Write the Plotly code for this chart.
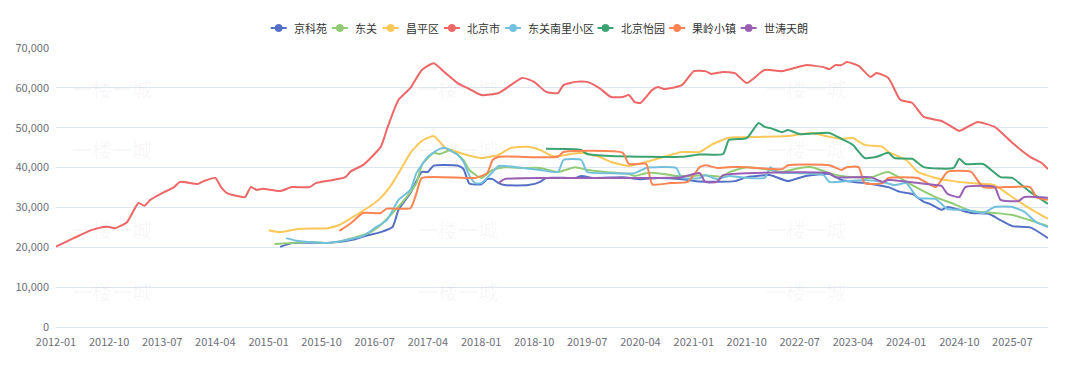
import plotly.graph_objects as go

# ---------------- data ----------------
series_names = ["京科苑", "东关", "昌平区", "北京市", "东关南里小区", "北京怡园", "果岭小镇", "世涛天朗"]
series_colors = ["#5470c6", "#91cc75", "#fac858", "#ee6666", "#73c0de", "#3ba272", "#fc8452", "#9a60b4"]

tick_labels = ["2012-01", "2012-10", "2013-07", "2014-04", "2015-01", "2015-10", "2016-07", "2017-04",
               "2018-01", "2018-10", "2019-07", "2020-04", "2021-01", "2021-10", "2022-07", "2023-04",
               "2024-01", "2024-10", "2025-07"]
x_first, x_last = "2012-01", "2026-01"

jky_m = ["2015-03","2015-05","2015-11","2016-03","2016-06","2016-08","2016-10","2016-11","2017-01","2017-03","2017-04","2017-05","2017-09","2017-10","2017-11","2018-01","2018-02","2018-03","2018-04","2018-05","2018-09","2018-11","2018-12","2019-05","2019-06","2019-08","2020-01","2020-04","2020-07","2020-11","2021-02","2021-08","2021-10","2022-02","2022-05","2022-08","2022-12","2023-02","2023-07","2023-10","2023-12","2024-02","2024-04","2024-05","2024-07","2024-08","2024-10","2024-12","2025-03","2025-05","2025-07","2025-10","2026-01"]
jky_v = [20100,21100,21100,21800,23100,23800,25100,29400,33600,38900,38900,40500,40500,39700,36000,35800,37100,37100,36100,35600,35600,36400,37400,37400,37900,37400,37600,37100,37400,37100,36500,36600,37600,38100,36600,37900,38400,36900,35900,35100,33900,33400,31400,30900,29400,30100,29400,28600,28400,26800,25300,25000,22300]

dg_m = ["2015-02","2015-05","2015-08","2015-11","2016-02","2016-06","2016-08","2016-10","2016-12","2017-02","2017-03","2017-05","2017-06","2017-08","2017-10","2017-11","2018-01","2018-03","2018-05","2018-08","2018-11","2019-02","2019-05","2019-07","2019-10","2020-02","2020-03","2020-05","2020-07","2020-10","2020-12","2021-03","2021-06","2021-07","2021-10","2022-02","2022-04","2022-07","2022-09","2022-12","2023-02","2023-07","2023-09","2023-10","2023-12","2024-02","2024-06","2024-09","2024-12","2025-04","2025-07","2025-10","2026-01"]
dg_v = [20800,21100,21300,21100,21800,23600,25600,28600,31900,36100,40600,43700,43400,44400,41900,39400,37400,39400,40100,39900,39900,38900,40100,39400,38900,38400,37900,38600,38600,37900,37900,38100,37700,38800,40100,39400,38900,39900,40100,38600,37900,37400,38600,38900,37400,35600,32600,30900,29100,28600,28100,26800,25300]

cp_m = ["2015-01","2015-03","2015-06","2015-11","2016-01","2016-03","2016-06","2016-08","2016-10","2016-12","2017-01","2017-03","2017-05","2017-07","2017-09","2017-10","2018-01","2018-04","2018-06","2018-09","2018-11","2019-01","2019-02","2019-06","2019-09","2019-11","2020-02","2020-05","2020-08","2020-11","2021-02","2021-04","2021-07","2021-12","2022-05","2022-09","2022-12","2023-02","2023-04","2023-06","2023-09","2023-10","2024-01","2024-03","2024-06","2024-09","2024-12","2025-04","2025-06","2025-09","2026-01"]
cp_v = [24300,23800,24600,24800,25600,27300,30100,32400,36100,41100,43700,46700,47900,44900,43900,43400,42400,43200,44900,45200,44400,42900,42900,43700,42700,41400,40400,41400,42700,43900,43900,45700,47500,47700,47900,48700,47700,47200,47400,45700,45200,43900,41900,38900,37400,36600,36100,35600,33600,30600,27100]

bj_m = ["2012-01","2012-04","2012-07","2012-09","2012-10","2012-11","2013-01","2013-03","2013-04","2013-05","2013-07","2013-09","2013-10","2014-01","2014-02","2014-04","2014-05","2014-06","2014-09","2014-10","2014-11","2014-12","2015-03","2015-05","2015-08","2015-09","2015-12","2016-02","2016-03","2016-05","2016-08","2016-09","2016-10","2016-11","2017-01","2017-03","2017-05","2017-07","2017-09","2017-11","2018-01","2018-04","2018-08","2018-10","2018-12","2019-02","2019-03","2019-05","2019-07","2019-09","2019-11","2020-01","2020-02","2020-03","2020-04","2020-06","2020-07","2020-08","2020-11","2021-01","2021-03","2021-04","2021-06","2021-08","2021-10","2022-01","2022-04","2022-08","2022-11","2022-12","2023-01","2023-02","2023-03","2023-05","2023-07","2023-08","2023-10","2023-12","2024-02","2024-04","2024-07","2024-08","2024-10","2025-01","2025-04","2025-07","2025-10","2025-12","2026-01"]
bj_v = [20200,22300,24300,25100,25100,24800,26300,31100,30400,31900,33600,35100,36400,35900,36600,37400,35100,33600,32600,35100,34400,34700,34100,35100,35100,36100,36900,37600,39100,40600,45200,49500,53500,57000,60000,64500,66200,63700,61200,59700,58200,58700,62500,61500,59000,58700,60700,61500,61500,60000,57700,57700,58200,56500,56200,59500,60200,59700,60700,64200,64200,63500,64000,63700,61200,64500,64200,65700,65200,64700,65700,65700,66500,65500,62700,63700,62500,57000,56200,52700,51700,50900,49200,51400,50200,46200,42700,41100,39600]

nl_m = ["2015-04","2015-06","2015-11","2016-02","2016-05","2016-07","2016-09","2016-11","2017-01","2017-02","2017-04","2017-06","2017-07","2017-09","2017-10","2017-11","2017-12","2018-01","2018-03","2018-04","2018-07","2018-11","2019-02","2019-03","2019-06","2019-07","2019-11","2020-03","2020-05","2020-10","2020-11","2021-02","2021-03","2021-05","2021-07","2021-09","2022-01","2022-02","2022-03","2022-07","2022-11","2022-12","2023-06","2023-09","2023-11","2024-01","2024-03","2024-06","2024-08","2024-11","2025-02","2025-04","2025-07","2025-09","2025-11","2026-01"]
nl_v = [22300,21600,21100,21800,22800,24800,26800,31900,34400,38600,42700,44700,44900,43200,41500,38000,36100,36100,38900,40400,40100,39400,38900,41900,41900,38900,38600,38600,39900,39900,37400,37400,38100,37100,37900,37600,37400,40100,38900,38600,38100,36400,36900,36400,35600,36100,32400,32100,29600,29400,28600,30100,30100,28900,26300,25100]

yy_m = ["2018-12","2019-06","2019-07","2019-11","2020-11","2021-02","2021-06","2021-07","2021-10","2021-12","2022-01","2022-02","2022-04","2022-05","2022-07","2022-12","2023-02","2023-04","2023-06","2023-08","2023-10","2023-11","2024-02","2024-04","2024-09","2024-10","2024-11","2025-02","2025-05","2025-07","2025-10","2026-01"]
yy_v = [44700,44400,43400,42900,42700,43300,43400,46900,47400,51200,50200,49900,48900,49400,48400,48700,47200,45700,42400,42700,43700,42400,42200,40100,39900,42200,40900,40900,37600,37400,33900,30900]

gl_m = ["2016-01","2016-03","2016-05","2016-08","2016-09","2017-01","2017-02","2017-03","2017-12","2018-02","2018-03","2018-04","2019-02","2019-03","2020-01","2020-02","2020-05","2020-06","2020-09","2020-12","2021-02","2021-03","2021-05","2021-07","2021-10","2022-04","2022-05","2022-12","2023-02","2023-03","2023-05","2023-06","2023-09","2023-10","2024-03","2024-06","2024-08","2024-12","2025-02","2025-10","2025-11","2026-01"]
gl_v = [24100,26100,28600,28600,29700,29800,33500,37400,37400,38600,41900,42700,42700,43900,43700,40900,40900,35800,36100,36400,40100,40600,39900,40100,40100,39600,40600,40600,39400,40100,40100,36100,36100,37400,37400,35100,38900,38900,35100,35100,32600,31900]

st_m = ["2018-04","2018-05","2018-12","2020-02","2020-11","2021-01","2021-02","2021-03","2021-05","2021-06","2021-10","2022-12","2023-01","2023-07","2023-09","2023-10","2024-06","2024-07","2024-08","2024-10","2024-11","2025-04","2025-05","2025-08","2025-09","2026-01"]
st_v = [36100,37100,37400,37400,37600,38400,38600,36400,36400,38100,38600,38600,37600,37600,36400,36900,35600,35400,33400,32600,35100,35100,31900,31600,32600,32400]

series_x = [jky_m, dg_m, cp_m, bj_m, nl_m, yy_m, gl_m, st_m]
series_y = [jky_v, dg_v, cp_v, bj_v, nl_v, yy_v, gl_v, st_v]

watermark_text = "一楼一城"

# ---------------- figure ----------------
FONT = "Noto Sans CJK SC, Noto Sans, sans-serif"
OFF = 8                      # page body margin of the html page
W, H = 1080 - OFF, 370 - OFF
L, T = 56 - OFF, 48 - OFF     # plot area top-left in figure pixels
PR, PB = 1048 - OFF, 327 - OFF
R, B = W - PR, H - PB
PW, PH = PR - L, PB - T


def px_x(px):
    """viewport pixel x -> paper coordinate"""
    return (px - OFF - L) / PW


def px_y(py):
    """viewport pixel y -> paper coordinate"""
    return (PB - (py - OFF)) / PH


fig = go.Figure()

for name, color, xs, ys in zip(series_names, series_colors, series_x, series_y):
    fig.add_trace(go.Scatter(
        x=xs, y=ys, name=name, mode="lines", showlegend=False,
        line=dict(color=color, width=2, shape="spline", smoothing=0.5),
        hovertemplate="%{x|%Y-%m}<br>" + name + ": %{y:,}<extra></extra>"))

# ---- legend drawn as icons + text (ECharts style, compact) ----
ICON_W, ICON_GAP, CHAR_W, ITEM_GAP = 16, 5, 10.4, 9
LEG_Y = 28
widths = [ICON_W + ICON_GAP + CHAR_W * len(n) for n in series_names]
total = sum(widths) + ITEM_GAP * (len(widths) - 1)
cur = 537 - total / 2
shapes = []
for name, color, w in zip(series_names, series_colors, widths):
    x0, x1 = cur, cur + ICON_W
    shapes.append(dict(type="line", xref="paper", yref="paper",
                       x0=px_x(x0), x1=px_x(x1), y0=px_y(LEG_Y), y1=px_y(LEG_Y),
                       line=dict(color=color, width=2)))
    cx = (x0 + x1) / 2
    shapes.append(dict(type="circle", xref="paper", yref="paper",
                       x0=px_x(cx - 3.6), x1=px_x(cx + 3.6),
                       y0=px_y(LEG_Y + 3.6), y1=px_y(LEG_Y - 3.6),
                       fillcolor=color, line=dict(color=color, width=1)))
    fig.add_annotation(text=name, xref="paper", yref="paper",
                       x=px_x(x1 + ICON_GAP), y=px_y(LEG_Y), xanchor="left", yanchor="middle",
                       showarrow=False, font=dict(size=11, color="#333333", family=FONT))
    cur += w + ITEM_GAP

# faint watermark
for xp in [70, 458, 848]:
    for yp in [72, 149, 229, 308]:
        fig.add_annotation(text=watermark_text, xref="paper", yref="paper",
                           x=px_x(xp), y=px_y(yp), showarrow=False,
                           font=dict(size=20, color="rgba(0,0,0,0.045)", family=FONT))

fig.update_layout(
    width=W, height=H,
    margin=dict(l=L, r=R, t=T, b=B, autoexpand=False),
    paper_bgcolor="white", plot_bgcolor="white",
    font=dict(family=FONT, size=11, color="#6E7079"),
    showlegend=False,
    shapes=shapes,
    xaxis=dict(type="date", range=[x_first, x_last], tickmode="array",
               tickvals=tick_labels, ticktext=tick_labels, automargin=False,
               showgrid=False, showline=True, linecolor="#E0E6F1", linewidth=1,
               ticks="", zeroline=False, ticklabelstandoff=5,
               tickfont=dict(size=11, color="#6E7079")),
    yaxis=dict(range=[0, 70000], tickmode="array", automargin=False,
               tickvals=[0, 10000, 20000, 30000, 40000, 50000, 60000, 70000],
               tickformat=",d", showgrid=True, gridcolor="#E0E6F1", gridwidth=1,
               zeroline=False, showline=False, ticks="", ticklabelstandoff=6,
               tickfont=dict(size=11, color="#6E7079")),
    hovermode="closest",
)

fig.write_html("out.html")
